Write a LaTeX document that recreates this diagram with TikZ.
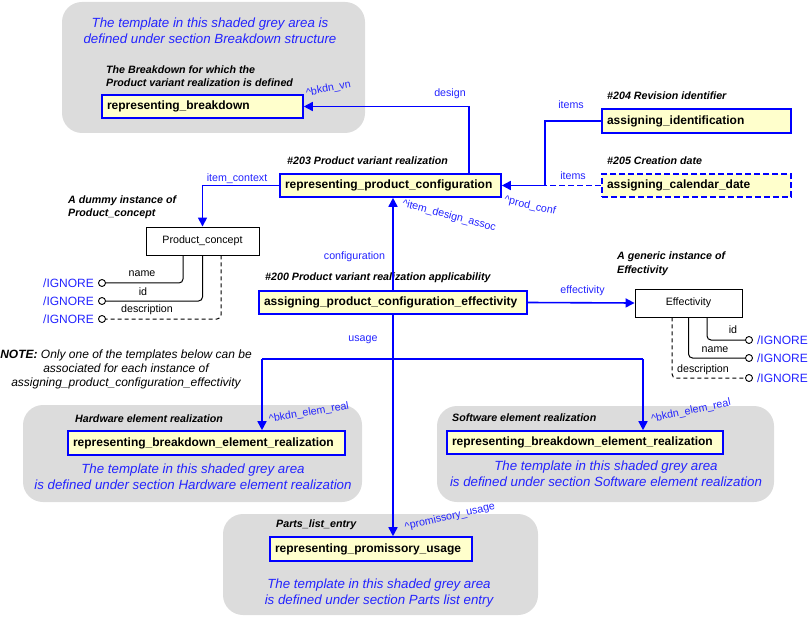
\documentclass[tikz,border=0pt]{standalone}
\usepackage{fontspec}
\setmainfont{Liberation Sans}
\usetikzlibrary{arrows.meta,calc}
\definecolor{lblue}{RGB}{0,0,255}
\definecolor{tblue}{RGB}{35,35,255}
\definecolor{greyfill}{RGB}{220,220,220}
\definecolor{boxyellow}{RGB}{255,255,204}
\begin{document}
\begin{tikzpicture}[x=1pt,y=-1pt,
  greyarea/.style={fill=greyfill, draw=none, rounded corners=20pt},
  ebox/.style={draw=lblue, line width=1.6pt, fill=boxyellow, font=\fontsize{12}{14}\selectfont\bfseries, inner xsep=5pt, inner ysep=0pt, align=left},
  obox/.style={draw=black, line width=0.9pt, fill=white, font=\fontsize{10.67}{12}\selectfont, inner sep=0pt, align=center},
  conn/.style={draw=lblue, line width=1.6pt, -{Triangle[length=9pt,width=9pt]}},
  blueline/.style={draw=lblue, line width=1.6pt},
  attr/.style={draw=black, line width=1pt, rounded corners=4pt},
  circ/.style={circle, draw=black, fill=white, line width=0.9pt, minimum size=7pt, inner sep=0pt},
  lbl/.style={text=tblue, font=\fontsize{10.67}{12}\selectfont, inner sep=0pt},
  rlbl/.style={text=tblue, font=\fontsize{10.67}{12}\selectfont, inner sep=0pt},
  albl/.style={text=black, font=\fontsize{10.67}{12}\selectfont, inner sep=0pt},
  ign/.style={text=tblue, font=\fontsize{12}{14}\selectfont, inner sep=0pt},
  note/.style={text=black, font=\fontsize{10.67}{12.5}\selectfont\bfseries\itshape, inner sep=0pt, align=left},
  tmpl/.style={text=tblue, font=\fontsize{13.3}{15.5}\selectfont\itshape, inner sep=0pt, align=center}
]
\useasboundingbox (0,0) rectangle (810,617);

% grey areas
\path[greyarea] (62,2) rectangle (365,133);
\path[greyarea] (23,405) rectangle (362,502);
\path[greyarea] (437,406) rectangle (774,502);
\path[greyarea] (223,514) rectangle (538,615);

% template texts
\node[tmpl] (t1) at (210,31) {The template in this shaded grey area is\\defined under section Breakdown structure};
\node[tmpl] (t2) at (193,476.5) {The template in this shaded grey area\\is defined under section Hardware element realization};
\node[tmpl] (t3) at (606,473.5) {The template in this shaded grey area\\is defined under section Software element realization};
\node[tmpl] (t4) at (379,593) {The template in this shaded grey area\\is defined under section Parts list entry};

% annotations
\node[note, anchor=west] (n1) at (106,76) {The Breakdown for which the\\Product variant realization is defined};
\node[note, anchor=west] (n2) at (287,161) {\#203 Product variant realization};
\node[note, anchor=west] (n3) at (607,96) {\#204 Revision identifier};
\node[note, anchor=west] (n4) at (607,161) {\#205 Creation date};
\node[note, anchor=west] (n5) at (68,207) {A dummy instance of\\Product\_concept};
\node[note, anchor=west] (n6) at (265,278) {\#200 Product variant realization applicability};
\node[note, anchor=west, font=\fontsize{10.67}{14}\selectfont\bfseries\itshape] (n7) at (617,264) {A generic instance of\\Effectivity};
\node[note, anchor=west] (n8) at (75,419) {Hardware element realization};
\node[note, anchor=west] (n9) at (452,418) {Software element realization};
\node[note, anchor=west] (n10) at (276,525) {Parts\_list\_entry};
\node[text=black, font=\fontsize{12}{14}\selectfont\itshape, inner sep=0pt, align=center] (nt) at (126,369)
  {\textbf{NOTE:} Only one of the templates below can be\\associated for each instance of\\assigning\_product\_configuration\_effectivity};

% boxes
\node[ebox, minimum width=201, text width=191, minimum height=23] (rb) at (202.5,106.5) {representing\_breakdown};
\node[ebox, minimum width=221, text width=211, minimum height=23] (rpc) at (390.5,185.5) {representing\_product\_configuration};
\node[ebox, minimum width=189, text width=179, minimum height=24] (ai) at (696.5,121) {assigning\_identification};
\node[ebox, dash pattern=on 6pt off 3pt, minimum width=189, text width=179, minimum height=23] (acd) at (696.5,185.5) {assigning\_calendar\_date};
\node[obox, minimum width=113, minimum height=28] (pc) at (202.5,241) {Product\_concept};
\node[ebox, minimum width=268, text width=258, minimum height=23] (apce) at (393,302.5) {assigning\_product\_configuration\_effectivity};
\node[obox, minimum width=107, minimum height=28] (eff) at (688.5,303) {Effectivity};
\node[ebox, minimum width=277, text width=267, minimum height=24] (rber1) at (206.5,443) {representing\_breakdown\_element\_realization};
\node[ebox, minimum width=276, text width=266, minimum height=23] (rber2) at (585,442.5) {representing\_breakdown\_element\_realization};
\node[ebox, minimum width=202, text width=192, minimum height=24] (rpu) at (371,549) {representing\_promissory\_usage};

% connectors
\draw[conn] ([xshift=78.5pt]rpc.north) |- (rb.east);
\coordinate (jn) at (545,185.5);
\draw[conn] (ai.west) -| (jn) -- (rpc.east);
\draw[blueline, dash pattern=on 6pt off 3pt] (acd.west) -- (jn);
\draw[conn] (rpc.west) -| (pc.north);
\draw[conn] (apce.north) -- (apce.north |- rpc.south);
\draw[conn] (apce.east) -- (eff.west);
\draw[conn] (apce.south) -- (apce.south |- rpu.north);
\coordinate (ul) at (262,359);
\coordinate (ur) at (643,359);
\draw[blueline] (ul) -- (ur);
\draw[conn] (ul) -- (ul |- rber1.north);
\draw[conn] (ur) -- (ur |- rber2.north);

% connector labels
\node[lbl] (l1) at (450,94) {design};
\node[lbl] (l2) at (571,105) {items};
\node[lbl] (l3) at (573,176) {items};
\node[lbl] (l4) at (237,179) {item\_context};
\node[lbl] (l5) at (354.5,257) {configuration};
\node[lbl] (l6) at (582.5,291) {effectivity};
\node[lbl] (l7) at (363,340) {usage};
\node[rlbl, rotate=11] (r1) at (328.5,89) {\textasciicircum bkdn\_vn};
\node[rlbl, rotate=-13] (r2) at (530,206) {\textasciicircum prod\_conf};
\node[rlbl, rotate=-15] (r3) at (449,216) {\textasciicircum item\_design\_assoc};
\node[rlbl, rotate=10] (r4) at (309,413) {\textasciicircum bkdn\_elem\_real};
\node[rlbl, rotate=12] (r5) at (691,411) {\textasciicircum bkdn\_elem\_real};
\node[rlbl, rotate=13] (r6) at (450,517) {\textasciicircum promissory\_usage};

% Product_concept attributes
\node[circ] (pc1) at (102,283) {};
\node[circ] (pc2) at (102,301) {};
\node[circ] (pc3) at (102,319) {};
\draw[attr] ([xshift=-19.5pt]pc.south) |- (pc1);
\draw[attr] (pc.south) |- (pc2);
\draw[attr, dash pattern=on 4pt off 3pt] ([xshift=18.5pt]pc.south) |- (pc3);
\node[albl] (pa1) at (142,274) {name};
\node[albl] (pa2) at (143,292) {id};
\node[albl] (pa3) at (147,310) {description};
\node[ign, anchor=east] (pi1) at ([xshift=-4pt]pc1.west) {/IGNORE};
\node[ign, anchor=east] (pi2) at ([xshift=-4pt]pc2.west) {/IGNORE};
\node[ign, anchor=east] (pi3) at ([xshift=-4pt]pc3.west) {/IGNORE};

% Effectivity attributes
\node[circ] (ec1) at (749,340) {};
\node[circ] (ec2) at (749,358) {};
\node[circ] (ec3) at (749,378) {};
\draw[attr] ([xshift=18.5pt]eff.south) |- (ec1);
\draw[attr] (eff.south) |- (ec2);
\draw[attr, dash pattern=on 4pt off 3pt] ([xshift=-16.5pt]eff.south) |- (ec3);
\node[albl] (ea1) at (733,330) {id};
\node[albl] (ea2) at (715,350) {name};
\node[albl] (ea3) at (703,370) {description};
\node[ign, anchor=west] (ei1) at ([xshift=4pt]ec1.east) {/IGNORE};
\node[ign, anchor=west] (ei2) at ([xshift=4pt]ec2.east) {/IGNORE};
\node[ign, anchor=west] (ei3) at ([xshift=4pt]ec3.east) {/IGNORE};
\end{tikzpicture}
\end{document}
